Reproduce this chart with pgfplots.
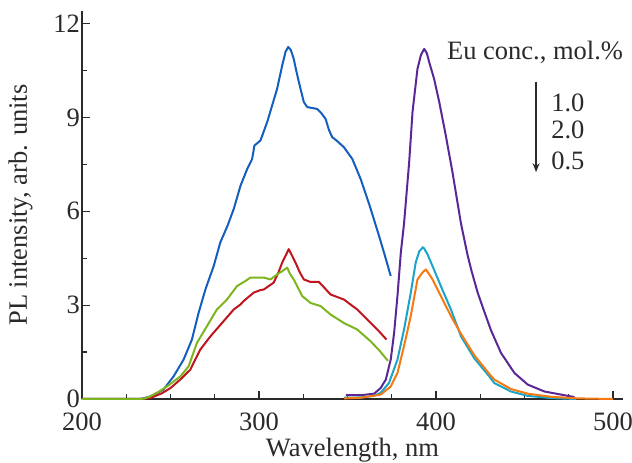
\documentclass[border=0pt]{standalone}
\usepackage{fontspec}
\setmainfont{Liberation Serif}
\usepackage{pgfplots}
\pgfplotsset{compat=1.18}
\usetikzlibrary{arrows.meta}
\definecolor{cblue}{HTML}{155EBE}
\definecolor{cred}{HTML}{C0141E}
\definecolor{cgreen}{HTML}{7DB51E}
\definecolor{cpurple}{HTML}{5A2896}
\definecolor{ccyan}{HTML}{1AA5C8}
\definecolor{corange}{HTML}{F57A12}
\definecolor{txt}{HTML}{2A2A2A}
\newcommand{\fs}{\fontsize{26.5}{31}\selectfont}
\begin{document}
\begin{tikzpicture}
\begin{axis}[
  scale only axis, width=541pt, height=388pt,
  xmin=200, xmax=505.6, ymin=0, ymax=12.4,
  axis lines=left,
  axis line style={-, line width=1.6pt, color=txt},
  xtick={200,300,400,500},
  minor xtick={225,250,275,325,350,375,425,450,475},
  ytick={0,3,6,9,12},
  minor ytick={1.5,4.5,7.5,10.5},
  tick align=inside,
  major tick length=8pt, minor tick length=5pt,
  every tick/.style={line width=1.2pt, color=txt},
  /pgf/number format/assume math mode=true,
  tick label style={font=\fs, color=txt},
  xticklabel style={yshift=-14pt, inner sep=0pt},
  yticklabel style={xshift=-2pt, inner sep=0pt},
  label style={font=\fs, color=txt},
  xlabel={Wavelength, nm},
  xlabel style={at={(axis description cs:0.5,0)}, anchor=base, yshift=-57pt},
  ylabel={PL intensity, arb. units},
  ylabel style={at={(axis description cs:-0.085,0.5)}, anchor=south, rotate=0},
  clip=false,
  every axis plot/.append style={line width=2pt, line join=round},
]
\coordinate (O) at (rel axis cs:0,0);
% excitation
\addplot[cblue] coordinates {(200,0) (230,0) (234,0.01) (238.5,0.08) (242,0.18) (246,0.3) (251.7,0.72) (257.4,1.26) (262.1,1.9) (265.9,2.76) (269.7,3.5) (274.4,4.25) (278.1,5.0) (282.3,5.55) (285.7,6.07) (289.5,6.81) (293.3,7.35) (296.1,7.67) (297.4,8.10) (300.8,8.26) (304.6,8.85) (307.4,9.38) (310.2,9.91) (313.1,10.66) (315.0,11.1) (316.5,11.25) (318,11.15) (319.6,10.87) (321,10.5) (322.5,10.13) (325.3,9.49) (327.2,9.33) (330,9.3) (332.8,9.27) (335,9.15) (337.6,8.95) (339.5,8.6) (341.3,8.37) (344,8.25) (347.9,8.05) (352.7,7.67) (357.4,7.03) (360,6.6) (363.1,6.07) (367.8,5.21) (371,4.6) (374.4,3.93)};
\addplot[cred] coordinates {(200,0) (234,0) (238.5,0.03) (245,0.18) (250,0.35) (255.5,0.62) (261.2,0.94) (266.8,1.58) (272.5,2.0) (279.1,2.43) (285.7,2.86) (289.5,3.02) (291.3,3.13) (297,3.40) (300.8,3.48) (302.7,3.50) (308.3,3.72) (311,4.05) (313.1,4.36) (316.8,4.79) (318.5,4.6) (320.6,4.36) (323,4.05) (325.3,3.82) (329.1,3.74) (333.8,3.74) (337,3.55) (340.4,3.34) (347.9,3.18) (355.5,2.86) (363.1,2.43) (368,2.15) (372,1.90)};
\addplot[cgreen] coordinates {(200,0) (232,0) (235,0.01) (238.5,0.08) (243,0.22) (248,0.4) (255.5,0.72) (260.2,1.04) (264.9,1.79) (270.6,2.33) (276.2,2.86) (281.9,3.18) (287.6,3.61) (292.3,3.77) (295.1,3.88) (299.8,3.88) (302.7,3.88) (306.5,3.82) (310.2,3.98) (313.5,4.1) (315.9,4.2) (317.5,4.0) (319.6,3.82) (324.4,3.29) (329.1,3.07) (334.8,2.97) (340.4,2.70) (347.9,2.43) (355.5,2.22) (363.1,1.84) (368,1.55) (372.8,1.22)};
% emission
\addplot[cpurple] coordinates {(349,0.12) (357.4,0.12) (365,0.17) (368.7,0.35) (371.6,0.62) (374.4,1.26) (376.3,2.11) (378.2,3.29) (380.1,4.68) (381.9,5.6) (384.8,7.56) (386.7,9.17) (389.5,10.55) (391.5,11.0) (393.3,11.19) (394.8,11.05) (396.1,10.77) (398.9,10.23) (401.8,9.49) (405.5,8.42) (409.3,7.24) (414.1,5.6) (417.8,4.6) (420,4.1) (423.5,3.4) (427.2,2.8) (431,2.2) (436.7,1.47) (444.3,0.83) (451.8,0.46) (461.2,0.24) (470.7,0.14) (478.2,0.06)};
\addplot[ccyan] coordinates {(348,0.04) (357.4,0.05) (365,0.1) (368.7,0.2) (373.4,0.51) (378.2,1.26) (381.9,2.22) (385.7,3.39) (388.5,4.36) (390.5,4.72) (391.4,4.77) (392.5,4.85) (393.3,4.81) (395.2,4.62) (398,4.25) (402.7,3.61) (408.4,2.86) (414.1,2.0) (421.6,1.3) (430.1,0.72) (432.9,0.51) (442.3,0.24) (451.8,0.1) (465,0.03) (479,0.0)};
\addplot[corange] coordinates {(348,0.02) (357.4,0.04) (368.7,0.14) (374.4,0.4) (378.2,0.83) (381.9,1.69) (385.7,2.65) (389.5,3.82) (392.3,4.04) (394.2,4.14) (396,4.0) (398,3.82) (402.7,3.29) (408.4,2.65) (414.1,2.08) (421.6,1.4) (430.1,0.8) (432.9,0.62) (442.3,0.32) (451.8,0.17) (465,0.07) (480,0.02) (500,0.0)};
\node[anchor=base west, font=\fs, color=txt, inner sep=0pt] at (axis cs:406.1,10.84) {Eu conc., mol.\%};
\draw[-{Stealth[length=9pt,width=7pt]}, line width=1.4pt, color=txt] (axis cs:456.5,10.14) -- (axis cs:456.5,7.25);
\node[anchor=base west, font=\fs, color=txt, inner sep=0pt] at (axis cs:465,9.2) {1.0};
\node[anchor=base west, font=\fs, color=txt, inner sep=0pt] at (axis cs:465,8.31) {2.0};
\node[anchor=base west, font=\fs, color=txt, inner sep=0pt] at (axis cs:465,7.35) {0.5};
\end{axis}
\pgfresetboundingbox
\path[use as bounding box] (O) ++(-82pt,-64pt) rectangle ++(632pt,463pt);
\end{tikzpicture}
\end{document}
